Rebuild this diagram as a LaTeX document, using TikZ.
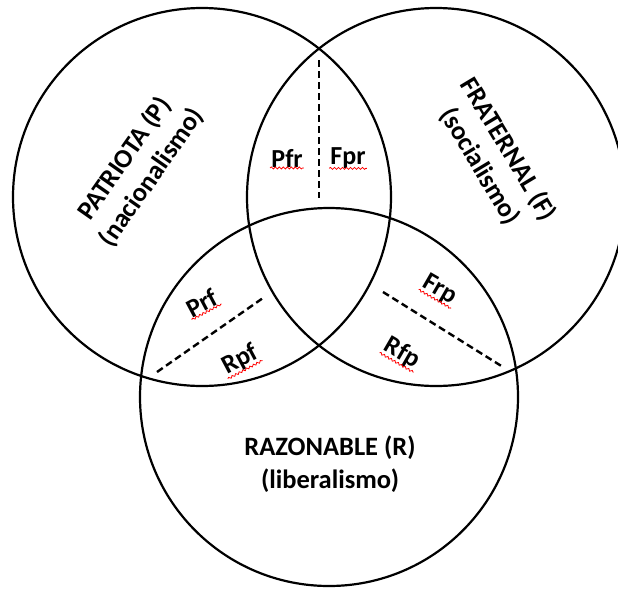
\documentclass[tikz,border=0pt]{standalone}
\usepackage{fontspec}
\setmainfont{Carlito}
\usetikzlibrary{calc,decorations.pathmorphing}
\begin{document}
\begin{tikzpicture}[x=1pt,y=-1pt,
  ring/.style={draw=black, line width=2.2pt, circle, minimum size=378pt, inner sep=0pt},
  divider/.style={draw=black, line width=2.4pt, dash pattern=on 7pt off 4pt},
  title/.style={font=\bfseries\fontsize{26.5}{33}\selectfont, align=center, inner sep=0pt},
  part/.style={font=\bfseries\fontsize{26}{30}\selectfont, inner sep=1pt},
  squig/.style={draw=red, line width=0.8pt, decorate,
    decoration={snake, segment length=4pt, amplitude=1pt}}]
\useasboundingbox (0,0) rectangle (618,590);

% the three sets
\node[ring] (P) at (202,197) {};
\node[ring] (F) at (436,197) {};
\node[ring] (R) at (329,397) {};

% set titles
\node[title, rotate=55]  (tP) at (138,168) {PATRIOTA (P)\\(nacionalismo)};
\node[title, rotate=-59] (tF) at (494,158) {FRATERNAL (F)\\(socialismo)};
\node[title]             (tR) at (330,464) {RAZONABLE (R)\\(liberalismo)};

% dividing lines inside the pairwise overlaps
\coordinate (d1a) at (319,60);  \coordinate (d1b) at (319,198);
\coordinate (d2a) at (157,372); \coordinate (d2b) at (263,298);
\coordinate (d3a) at (383,292); \coordinate (d3b) at (503,367);
\draw[divider] (d1a) -- (d1b);
\draw[divider] (d2a) -- (d2b);
\draw[divider] (d3a) -- (d3b);

% overlap labels
\node[part]             (Pfr) at (287,158) {Pfr};
\node[part]             (Fpr) at (348,158) {Fpr};
\node[part, rotate=28]  (Prf) at (202,303) {Prf};
\node[part, rotate=28]  (Rpf) at (240,360) {Rpf};
\node[part, rotate=-30] (Frp) at (440,290) {Frp};
\node[part, rotate=-30] (Rfp) at (402,353) {Rfp};

% spell-check underlines
\foreach \n in {Pfr,Fpr,Prf,Rpf,Frp,Rfp}{
  \draw[squig] ($(\n.base west)!0.75!(\n.south west)$) -- ($(\n.base east)!0.75!(\n.south east)$);
}
\end{tikzpicture}
\end{document}
